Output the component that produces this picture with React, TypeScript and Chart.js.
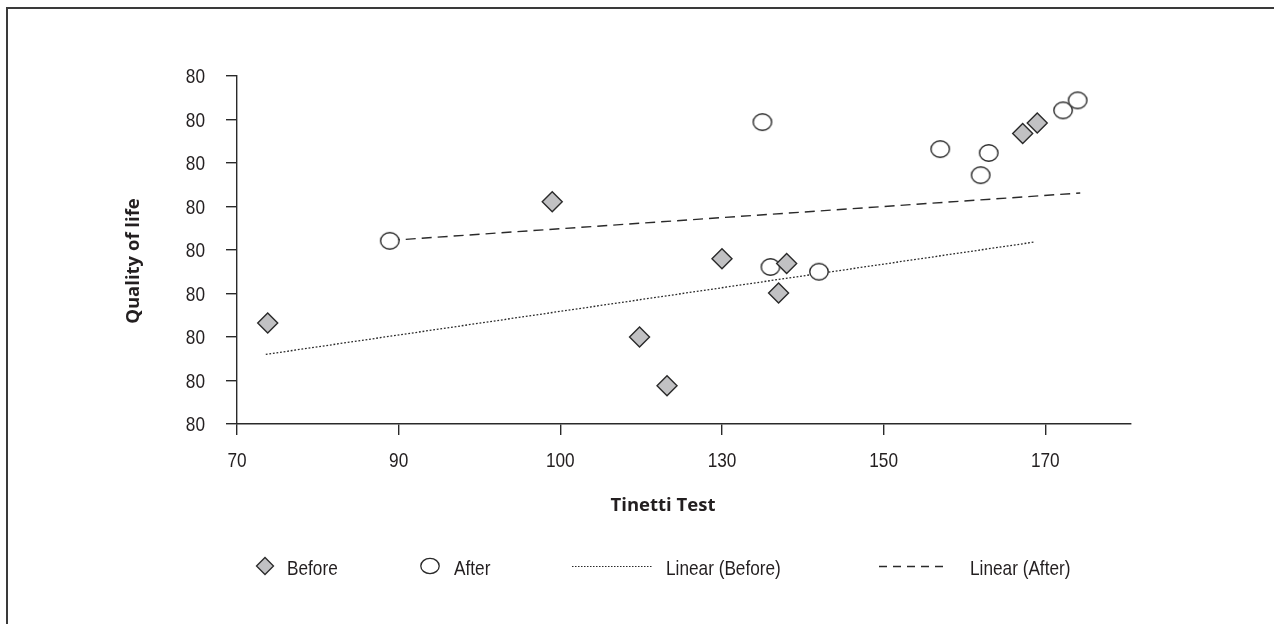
import React, { useEffect, useRef } from "react";
import { Chart, registerables } from "chart.js";

Chart.register(...registerables);

// ---- data (x in tick-index units, y in tick-index units) ----
const xTickLabels = ["70", "90", "100", "130", "150", "170"];
const yTickLabels = ["80", "80", "80", "80", "80", "80", "80", "80", "80"];

const beforeX = [0.19, 1.95, 2.49, 2.66, 3.0, 3.35, 3.4, 4.86, 4.95];
const beforeY = [2.32, 5.11, 2.0, 0.88, 3.8, 3.01, 3.69, 6.68, 6.92];

const afterX = [0.945, 3.25, 3.3, 3.6, 4.35, 4.6, 4.65, 5.11, 5.2];
const afterY = [4.21, 6.94, 3.61, 3.5, 6.32, 5.72, 6.23, 7.21, 7.44];

const trendBeforeX = [0.178, 4.928];
const trendBeforeY = [1.6, 4.18];
const trendAfterX = [0.945, 5.216];
const trendAfterY = [4.22, 5.31];

const seriesLabels = ["Before", "After", "Linear (Before)", "Linear (After)"];
const xTitle = "Tinetti Test";
const yTitle = "Quality of life";

// ---- styles ----
const INK = "#2a2a2a";
const TEXT = "#231f20";
const GREY = "#c1c1c3";
const TICK_FONT = "21px 'Liberation Sans', Arial, sans-serif";
const NARROW = 0.82; // horizontal condensing to mimic a narrow face
const TITLE_FONT = "bold 18.5px 'Open Sans', 'Noto Sans', sans-serif";

const pts = (xs: number[], ys: number[]) => xs.map((x, i) => ({ x, y: ys[i] }));

function makeEllipse(w: number, h: number, lw: number) {
  const c = document.createElement("canvas");
  c.width = Math.ceil(w + lw * 2 + 2);
  c.height = Math.ceil(h + lw * 2 + 2);
  const g = c.getContext("2d")!;
  g.beginPath();
  g.ellipse(c.width / 2, c.height / 2, w / 2, h / 2, 0, 0, Math.PI * 2);
  g.fillStyle = "#ffffff";
  g.fill();
  g.lineWidth = lw;
  g.strokeStyle = INK;
  g.stroke();
  return c;
}

function narrowText(ctx: CanvasRenderingContext2D, text: string, x: number, y: number, align: CanvasTextAlign) {
  ctx.save();
  ctx.translate(x, y);
  ctx.scale(NARROW, 1);
  ctx.textAlign = align;
  ctx.textBaseline = "alphabetic";
  ctx.fillText(text, 0, 0);
  ctx.restore();
}

const legendLayout = {
  y: 566,
  baseline: 575,
  diamond: { cx: 265, r: 8.5, textX: 287 },
  ellipse: { cx: 430, textX: 454 },
  dotted: { x0: 572, x1: 652, textX: 666 },
  dashed: { x0: 879, x1: 945, textX: 970 },
};

const overlayPlugin = {
  id: "overlay",
  afterDraw(chart: any) {
    const ctx = chart.ctx as CanvasRenderingContext2D;
    const labels = chart.data.datasets.map((d: any) => d.label);
    ctx.save();
    ctx.fillStyle = TEXT;

    // tick labels (positions from the chart's scales)
    ctx.font = TICK_FONT;
    const xs = chart.scales.x;
    const ys = chart.scales.y;
    xs.ticks.forEach((t: any, i: number) => {
      narrowText(ctx, xTickLabels[i], xs.getPixelForValue(t.value), xs.top + 42.5, "center");
    });
    ys.ticks.forEach((t: any, i: number) => {
      narrowText(ctx, yTickLabels[i], ys.right - 32, ys.getPixelForValue(t.value) + 7, "right");
    });

    // axis titles
    ctx.font = TITLE_FONT;
    ctx.textAlign = "center";
    ctx.textBaseline = "alphabetic";
    ctx.fillText(xTitle, 663, 511);
    ctx.save();
    ctx.translate(139, 261);
    ctx.rotate(-Math.PI / 2);
    ctx.fillText(yTitle, 0, 0);
    ctx.restore();

    // legend
    const L = legendLayout;
    ctx.font = TICK_FONT;
    // diamond
    ctx.beginPath();
    ctx.moveTo(L.diamond.cx - L.diamond.r, L.y);
    ctx.lineTo(L.diamond.cx, L.y - L.diamond.r);
    ctx.lineTo(L.diamond.cx + L.diamond.r, L.y);
    ctx.lineTo(L.diamond.cx, L.y + L.diamond.r);
    ctx.closePath();
    ctx.fillStyle = GREY;
    ctx.fill();
    ctx.lineWidth = 1.3;
    ctx.strokeStyle = INK;
    ctx.stroke();
    ctx.fillStyle = TEXT;
    narrowText(ctx, labels[0], L.diamond.textX, L.baseline, "left");
    // ellipse
    ctx.beginPath();
    ctx.ellipse(L.ellipse.cx, L.y, 9.2, 7.6, 0, 0, Math.PI * 2);
    ctx.fillStyle = "#fff";
    ctx.fill();
    ctx.lineWidth = 1.3;
    ctx.strokeStyle = INK;
    ctx.stroke();
    ctx.fillStyle = TEXT;
    narrowText(ctx, labels[1], L.ellipse.textX, L.baseline, "left");
    // dotted
    ctx.beginPath();
    ctx.setLineDash([1.5, 1.5]);
    ctx.lineWidth = 1.2;
    ctx.moveTo(L.dotted.x0, L.y + 0.5);
    ctx.lineTo(L.dotted.x1, L.y + 0.5);
    ctx.stroke();
    narrowText(ctx, labels[2], L.dotted.textX, L.baseline, "left");
    // dashed
    ctx.beginPath();
    ctx.setLineDash([8, 6]);
    ctx.lineWidth = 1.3;
    ctx.moveTo(L.dashed.x0, L.y + 0.5);
    ctx.lineTo(L.dashed.x1, L.y + 0.5);
    ctx.stroke();
    ctx.setLineDash([]);
    narrowText(ctx, labels[3], L.dashed.textX, L.baseline, "left");
    ctx.restore();
  },
};

export default function App() {
  const ref = useRef<HTMLCanvasElement | null>(null);

  useEffect(() => {
    if (!ref.current) return;
    const ellipse = makeEllipse(18.5, 16.5, 1.4);
    const chart = new Chart(ref.current, {
      type: "scatter",
      data: {
        datasets: [
          {
            label: seriesLabels[0],
            data: pts(beforeX, beforeY),
            pointStyle: "rectRot",
            pointRadius: 10,
            pointHoverRadius: 10,
            backgroundColor: GREY,
            borderColor: INK,
            borderWidth: 1.4,
          },
          {
            label: seriesLabels[1],
            data: pts(afterX, afterY),
            pointStyle: ellipse as any,
            pointRadius: 9,
            backgroundColor: "#fff",
            borderColor: INK,
          },
          {
            label: seriesLabels[2],
            data: pts(trendBeforeX, trendBeforeY),
            showLine: true,
            pointRadius: 0,
            borderColor: INK,
            borderWidth: 1.3,
            borderDash: [1.8, 1.8],
            fill: false,
          },
          {
            label: seriesLabels[3],
            data: pts(trendAfterX, trendAfterY),
            showLine: true,
            pointRadius: 0,
            borderColor: INK,
            borderWidth: 1.4,
            borderDash: [10, 6],
            fill: false,
          },
        ],
      },
      options: {
        animation: false,
        responsive: false,
        devicePixelRatio: 1,
        layout: { padding: { top: 76, right: 143, bottom: 0, left: 0 } },
        plugins: { legend: { display: false }, tooltip: { enabled: false } },
        scales: {
          x: {
            type: "linear",
            min: 0,
            max: 5.53,
            afterBuildTicks: (s: any) => {
              s.ticks = xTickLabels.map((_, i) => ({ value: i }));
            },
            afterFit: (s: any) => {
              s.height = 200;
            },
            ticks: { display: false },
            grid: { drawOnChartArea: false, drawTicks: true, tickLength: 11, color: INK, lineWidth: 1.4 },
            border: { display: true, color: INK, width: 1.4 },
          },
          y: {
            type: "linear",
            min: 0,
            max: 8,
            afterBuildTicks: (s: any) => {
              s.ticks = yTickLabels.map((_, i) => ({ value: i }));
            },
            afterFit: (s: any) => {
              s.width = 237;
            },
            ticks: { display: false },
            grid: { drawOnChartArea: false, drawTicks: true, tickLength: 11, color: INK, lineWidth: 1.4 },
            border: { display: true, color: INK, width: 1.4 },
          },
        },
      },
      plugins: [overlayPlugin],
    });
    return () => chart.destroy();
  }, []);

  return (
    <>
      <div
        style={{
          position: "fixed",
          left: 6,
          top: 7,
          width: 1400,
          height: 800,
          borderTop: "2px solid #3a3a3a",
          borderLeft: "2px solid #3a3a3a",
          boxSizing: "border-box",
        }}
      />
      <canvas
        ref={ref}
        width={1274}
        height={624}
        style={{ position: "fixed", left: 0, top: 0, width: 1274, height: 624 }}
      />
    </>
  );
}
